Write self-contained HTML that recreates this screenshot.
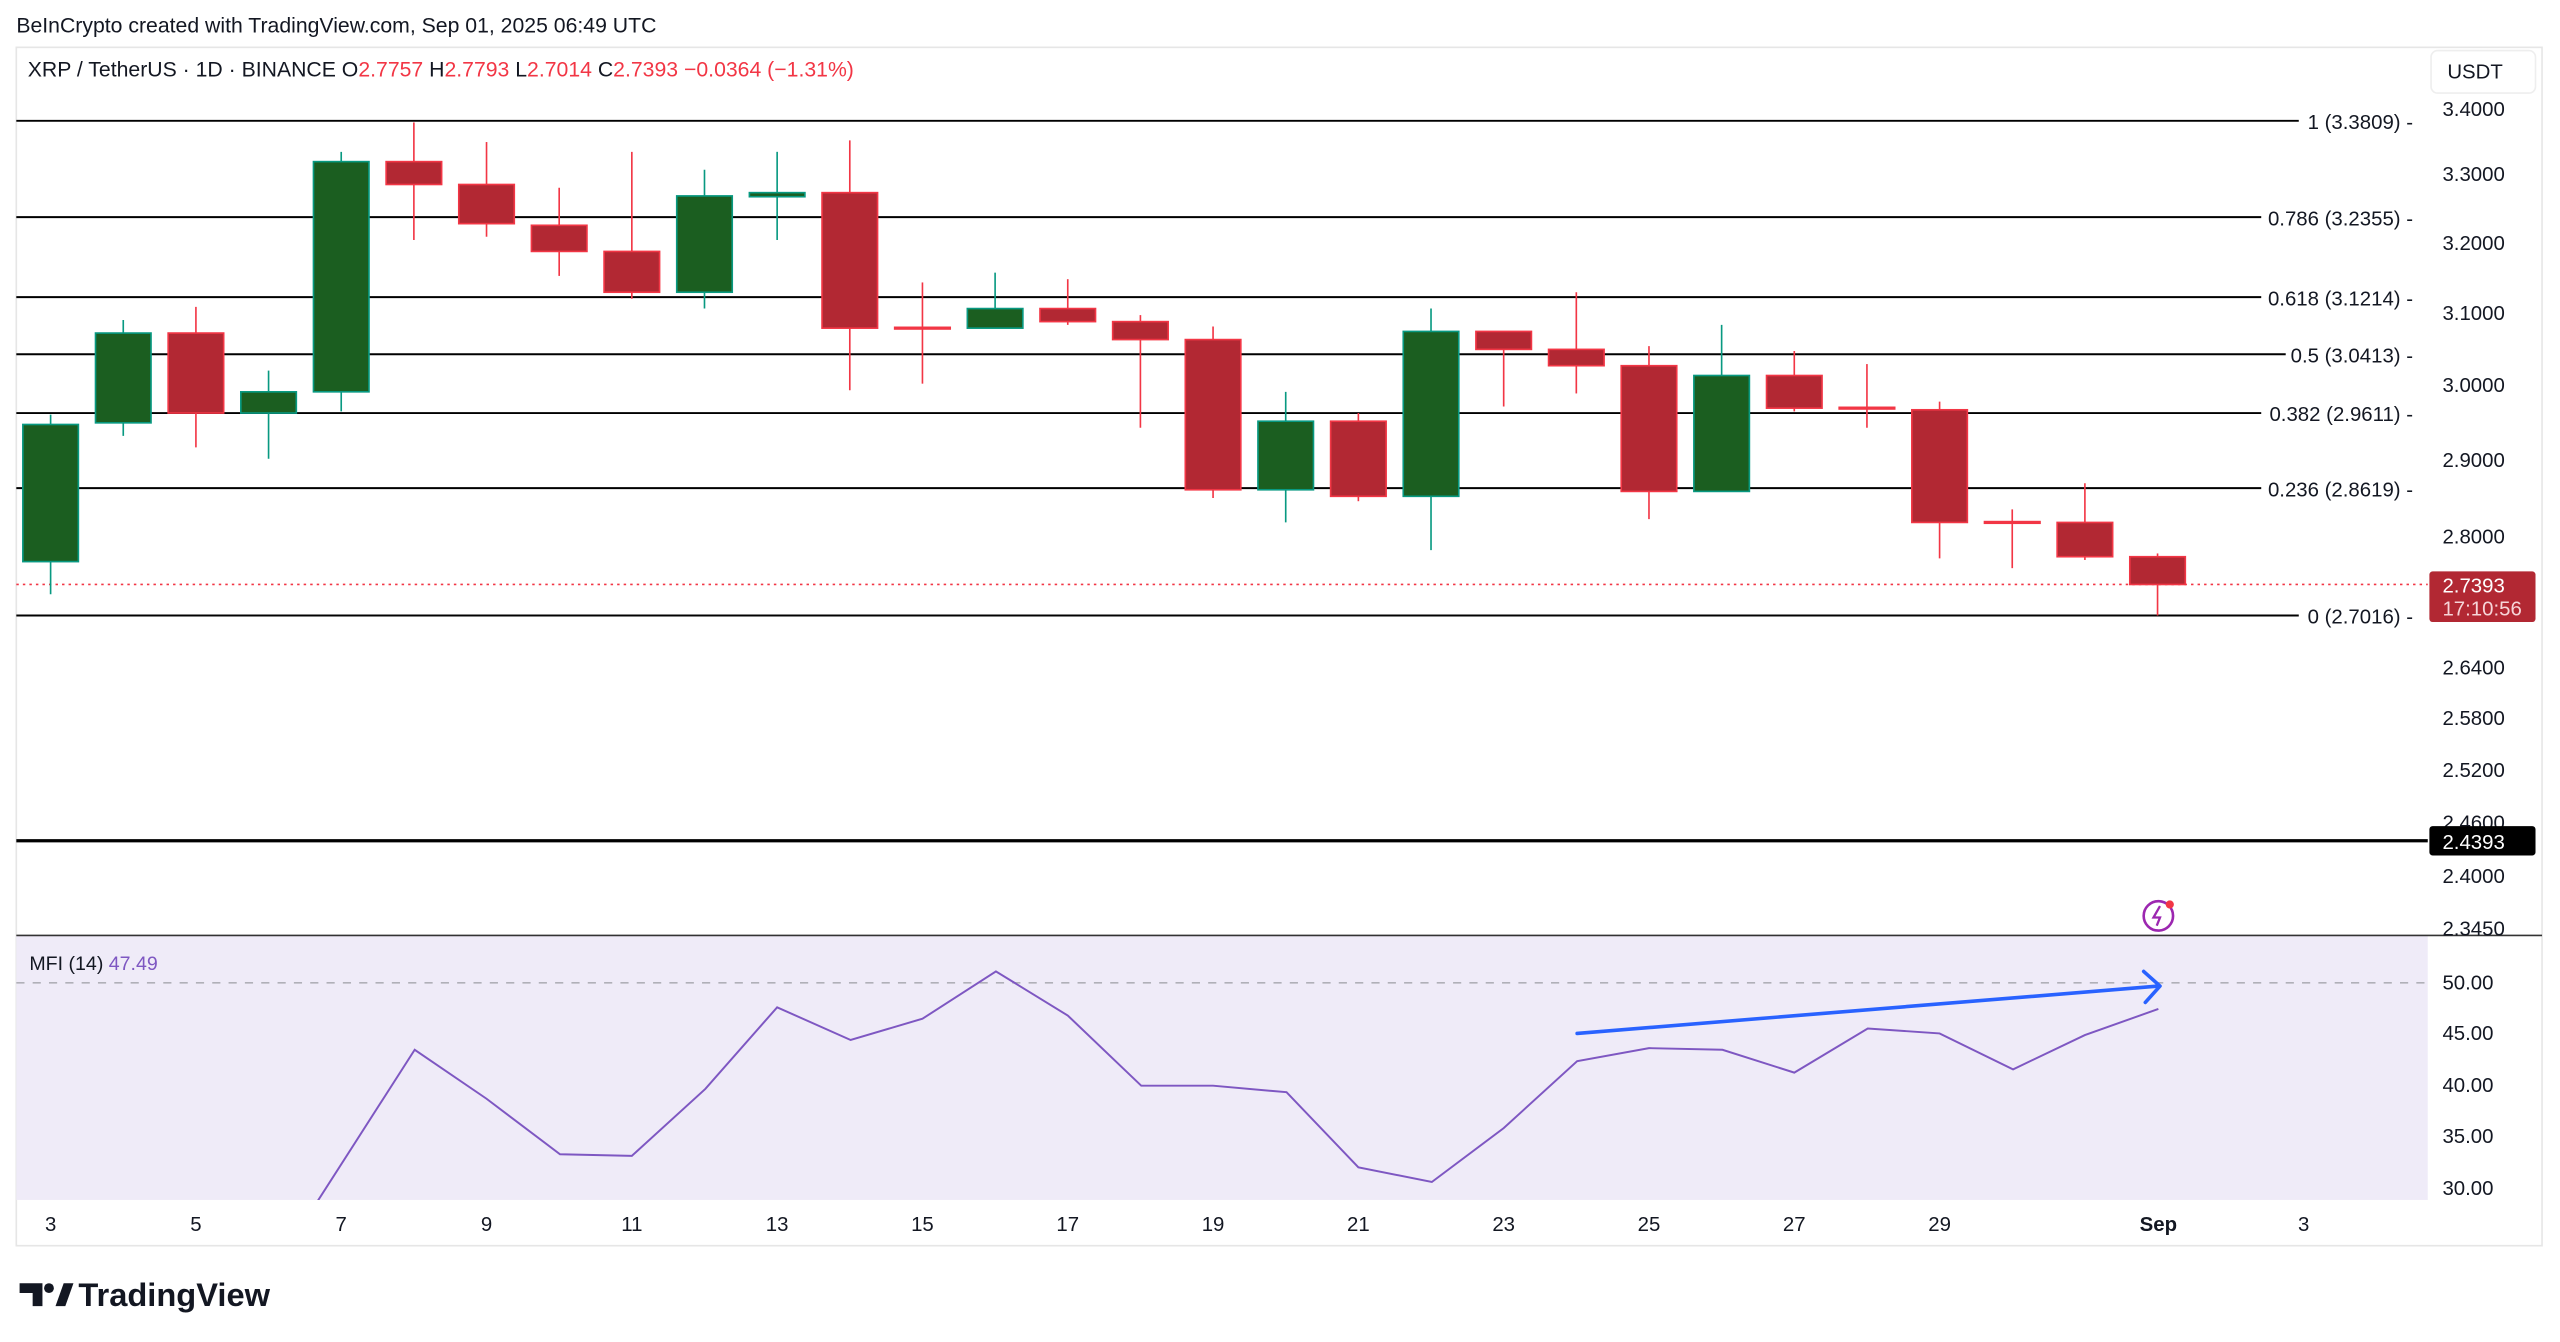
<!DOCTYPE html>
<html><head><meta charset="utf-8"><style>
html,body{margin:0;padding:0;background:#fff;}
svg{display:block;font-family:"Liberation Sans",sans-serif;}
</style></head><body>
<svg width="2560" height="1342" viewBox="0 0 1568 822" preserveAspectRatio="none" xmlns="http://www.w3.org/2000/svg">
<rect width="1568" height="822" fill="#fff"/>
<text x="10" y="20" font-size="13" fill="#131722">BeInCrypto created with TradingView.com, Sep 01, 2025 06:49 UTC</text>
<rect x="10" y="29" width="1547" height="734" fill="none" stroke="#e6e6e6"/>
<text x="17" y="47" font-size="13" fill="#131722">XRP / TetherUS · 1D · BINANCE  O<tspan fill="#f23645">2.7757</tspan>  H<tspan fill="#f23645">2.7793</tspan>  L<tspan fill="#f23645">2.7014</tspan>  C<tspan fill="#f23645">2.7393</tspan>  <tspan fill="#f23645">−0.0364 (−1.31%)</tspan></text>
<rect x="1489" y="31" width="64" height="26" rx="4" fill="#fff" stroke="#eee"/>
<text x="1516" y="48" font-size="12.5" fill="#131722" text-anchor="middle">USDT</text>
<!-- MFI panel -->
<rect x="10" y="573" width="1477" height="162" fill="#efebf8"/>
<line x1="10" y1="573" x2="1557" y2="573" stroke="#333" stroke-width="1"/>
<line x1="10" y1="602" x2="1487" y2="602" stroke="#b0b0b8" stroke-dasharray="5,5"/>
<!-- fib lines -->
<g stroke="#000" stroke-width="1.2">
<line x1="10" y1="74" x2="1408" y2="74"/>
<line x1="10" y1="133" x2="1385" y2="133"/>
<line x1="10" y1="182" x2="1385" y2="182"/>
<line x1="10" y1="217" x2="1400" y2="217"/>
<line x1="10" y1="253" x2="1385" y2="253"/>
<line x1="10" y1="299" x2="1385" y2="299"/>
<line x1="10" y1="377" x2="1408" y2="377"/>
</g>
<line x1="10" y1="515" x2="1487" y2="515" stroke="#000" stroke-width="2"/>
<line x1="10" y1="358" x2="1487" y2="358" stroke="#f23645" stroke-dasharray="1.5,2.5"/>
<g font-size="12.5" fill="#131722" text-anchor="end">
<text x="1478" y="79">1 (3.3809) -</text>
<text x="1478" y="138">0.786 (3.2355) -</text>
<text x="1478" y="187">0.618 (3.1214) -</text>
<text x="1478" y="222">0.5 (3.0413) -</text>
<text x="1478" y="258">0.382 (2.9611) -</text>
<text x="1478" y="304">0.236 (2.8619) -</text>
<text x="1478" y="382">0 (2.7016) -</text>
</g>
<g font-size="12.5" fill="#131722">
<text x="1496" y="71">3.4000</text><text x="1496" y="111">3.3000</text><text x="1496" y="153">3.2000</text>
<text x="1496" y="196">3.1000</text><text x="1496" y="240">3.0000</text><text x="1496" y="286">2.9000</text>
<text x="1496" y="333">2.8000</text><text x="1496" y="381">2.7000</text><text x="1496" y="413">2.6400</text><text x="1496" y="444">2.5800</text>
<text x="1496" y="476">2.5200</text><text x="1496" y="508">2.4600</text><text x="1496" y="541">2.4000</text>
<text x="1496" y="573">2.3450</text>
<text x="1496" y="606">50.00</text><text x="1496" y="637">45.00</text><text x="1496" y="669">40.00</text>
<text x="1496" y="700">35.00</text><text x="1496" y="732">30.00</text>
</g>
<rect x="1488" y="350" width="65" height="31" rx="2" fill="#b22833"/>
<text x="1496" y="363" font-size="12.5" fill="#fff">2.7393</text>
<text x="1496" y="377" font-size="12.5" fill="#f6d5d8">17:10:56</text>
<rect x="1488" y="506" width="65" height="18" rx="2" fill="#000"/>
<text x="1496" y="520" font-size="12.5" fill="#fff">2.4393</text>
<!-- candles -->
<g id="c">
<!-- green: fill #1b5e20 wick #089981 ; red fill #b22833 wick #f23645 -->
<g stroke="#089981" stroke-width="1">
<line x1="31" y1="254" x2="31" y2="364"/><line x1="75.5" y1="196" x2="75.5" y2="267"/>
<line x1="164.5" y1="227" x2="164.5" y2="281"/><line x1="209" y1="93" x2="209" y2="252"/>
<line x1="431.5" y1="104" x2="431.5" y2="189"/><line x1="476" y1="93" x2="476" y2="147"/>
<line x1="609.5" y1="167" x2="609.5" y2="201"/><line x1="787.5" y1="240" x2="787.5" y2="320"/>
<line x1="876.5" y1="189" x2="876.5" y2="337"/><line x1="1054.5" y1="199" x2="1054.5" y2="301"/>
</g>
<g fill="#1b5e20" stroke="#089981" stroke-width="1">
<rect x="14" y="260" width="34" height="84"/><rect x="58.5" y="204" width="34" height="55"/>
<rect x="147.5" y="240" width="34" height="13"/><rect x="192" y="99" width="34" height="141"/>
<rect x="414.5" y="120" width="34" height="59"/><rect x="459" y="118" width="34" height="2.5"/>
<rect x="592.5" y="189" width="34" height="12"/><rect x="770.5" y="258" width="34" height="42"/>
<rect x="859.5" y="203" width="34" height="101"/><rect x="1037.5" y="230" width="34" height="71"/>
</g>
<g stroke="#f23645" stroke-width="1">
<line x1="120" y1="188" x2="120" y2="274"/><line x1="253.5" y1="75" x2="253.5" y2="147"/>
<line x1="298" y1="87" x2="298" y2="145"/><line x1="342.5" y1="115" x2="342.5" y2="169"/>
<line x1="387" y1="93" x2="387" y2="183"/><line x1="520.5" y1="86" x2="520.5" y2="239"/>
<line x1="565" y1="173" x2="565" y2="235"/><line x1="654" y1="171" x2="654" y2="199"/>
<line x1="698.5" y1="193" x2="698.5" y2="262"/><line x1="743" y1="200" x2="743" y2="305"/>
<line x1="832" y1="253" x2="832" y2="307"/><line x1="921" y1="203" x2="921" y2="249"/>
<line x1="965.5" y1="179" x2="965.5" y2="241"/><line x1="1010" y1="212" x2="1010" y2="318"/>
<line x1="1099" y1="215" x2="1099" y2="252"/><line x1="1143.5" y1="223" x2="1143.5" y2="262"/>
<line x1="1188" y1="246" x2="1188" y2="342"/><line x1="1232.5" y1="312" x2="1232.5" y2="348"/>
<line x1="1277" y1="296" x2="1277" y2="343"/><line x1="1321.5" y1="339" x2="1321.5" y2="377"/>
</g>
<g fill="#b22833" stroke="#f23645" stroke-width="1">
<rect x="103" y="204" width="34" height="49"/><rect x="236.5" y="99" width="34" height="14"/>
<rect x="281" y="113" width="34" height="24"/><rect x="325.5" y="138" width="34" height="16"/>
<rect x="370" y="154" width="34" height="25"/><rect x="503.5" y="118" width="34" height="83"/>
<rect x="548" y="200.5" width="34" height="1"/><rect x="637" y="189" width="34" height="8"/>
<rect x="681.5" y="197" width="34" height="11"/><rect x="726" y="208" width="34" height="92"/>
<rect x="815" y="258" width="34" height="46"/><rect x="904" y="203" width="34" height="11"/>
<rect x="948.5" y="214" width="34" height="10"/><rect x="993" y="224" width="34" height="77"/>
<rect x="1082" y="230" width="34" height="20"/><rect x="1126.5" y="249.5" width="34" height="1"/>
<rect x="1171" y="251" width="34" height="69"/><rect x="1215.5" y="319.5" width="34" height="1"/>
<rect x="1260" y="320" width="34" height="21"/><rect x="1304.5" y="341" width="34" height="17"/>
</g>
</g>
<!-- alert icon -->
<circle cx="1322" cy="561" r="9" fill="none" stroke="#9c27b0" stroke-width="1.6"/>
<path d="M1323 555 L1319 562 L1323 562 L1321 567" fill="none" stroke="#9c27b0" stroke-width="1.4"/>
<circle cx="1329" cy="554" r="2.5" fill="#f23645"/>
<!-- MFI -->
<text x="18" y="594" font-size="12" fill="#131722">MFI (14)  <tspan fill="#7e57c2">47.49</tspan></text>
<svg x="10" y="573" width="1477" height="162" viewBox="10 573 1477 162" overflow="hidden">
<polyline fill="none" stroke="#7e57c2" stroke-width="1.2" points="165,780 195,735 254,643 298,673 343,707 387,708 432,667 476,617 521,637 565,624 610,595 654,622 699,665 743,665 788,669 832,715 877,724 921,691 966,650 1010,642 1055,643 1099,657 1144,630 1188,633 1233,655 1277,634 1322,618"/>
</svg>
<line x1="966" y1="633" x2="1322" y2="604" stroke="#2962ff" stroke-width="2.2" stroke-linecap="round"/>
<polyline points="1313,595 1323,604 1314,614" fill="none" stroke="#2962ff" stroke-width="2.2" stroke-linecap="round" stroke-linejoin="round"/>
<!-- x axis -->
<g font-size="12.5" fill="#131722" text-anchor="middle">
<text x="31" y="754">3</text><text x="120" y="754">5</text><text x="209" y="754">7</text><text x="298" y="754">9</text>
<text x="387" y="754">11</text><text x="476" y="754">13</text><text x="565" y="754">15</text><text x="654" y="754">17</text>
<text x="743" y="754">19</text><text x="832" y="754">21</text><text x="921" y="754">23</text><text x="1010" y="754">25</text>
<text x="1099" y="754">27</text><text x="1188" y="754">29</text><text x="1322" y="754" font-weight="bold">Sep</text><text x="1411" y="754">3</text>
</g>
<!-- logo -->
<g fill="#131722">
<path d="M12 786 h14 v14 h-6 v-8 h-8z"/>
<circle cx="30" cy="789" r="3"/>
<path d="M34 800 L39 786 L45 786 L40 800z"/>
</g>
<text x="48" y="800" font-size="20" font-weight="bold" fill="#131722">TradingView</text>
</svg>
</body></html>
